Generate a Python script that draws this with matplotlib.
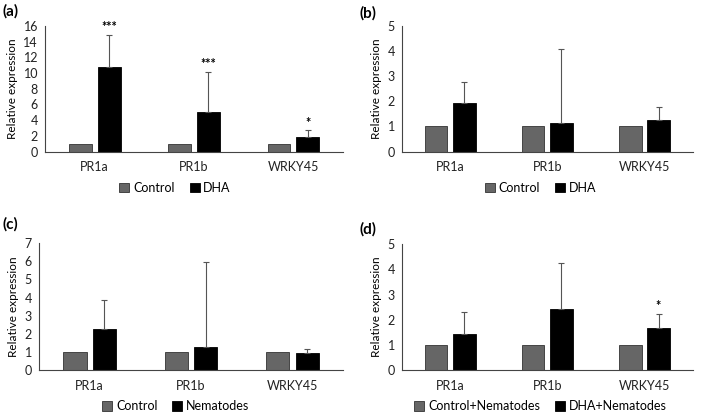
import matplotlib
matplotlib.use("Agg")
import matplotlib.pyplot as plt
import numpy as np

plt.rcParams["font.family"] = ["Lato", "DejaVu Sans"]

genes = ["PR1a", "PR1b", "WRKY45"]

# (a) Control vs DHA
a_ctrl = [1.0, 1.0, 1.0]
a_trt = [10.8, 5.1, 1.9]
a_err = [4.1, 5.1, 0.8]
a_sig = ["***", "***", "*"]

# (b) Control vs DHA
b_ctrl = [1.0, 1.0, 1.0]
b_trt = [1.95, 1.15, 1.26]
b_err = [0.83, 2.93, 0.51]
b_sig = ["", "", ""]

# (c) Control vs Nematodes
c_ctrl = [1.0, 1.0, 1.0]
c_trt = [2.27, 1.29, 0.92]
c_err = [1.6, 4.69, 0.22]
c_sig = ["", "", ""]

# (d) Control+Nematodes vs DHA+Nematodes
d_ctrl = [1.0, 1.0, 1.0]
d_trt = [1.42, 2.42, 1.69]
d_err = [0.9, 1.83, 0.54]
d_sig = ["", "", "*"]

panels = [
    ("(a)", a_ctrl, a_trt, a_err, a_sig, 16, 2, ("Control", "DHA")),
    ("(b)", b_ctrl, b_trt, b_err, b_sig, 5, 1, ("Control", "DHA")),
    ("(c)", c_ctrl, c_trt, c_err, c_sig, 7, 1, ("Control", "Nematodes")),
    ("(d)", d_ctrl, d_trt, d_err, d_sig, 5, 1, ("Control+Nematodes", "DHA+Nematodes")),
]

# axes rectangles [left, bottom, width, height] in figure fraction
rects = [
    [0.0635, 0.633, 0.4205, 0.304],
    [0.5666, 0.633, 0.4108, 0.304],
    [0.055, 0.104, 0.429, 0.307],
    [0.5666, 0.104, 0.4108, 0.3045],
]
tag_pos = [(0.003, 0.99), (0.507, 0.985), (0.003, 0.475), (0.507, 0.463)]
leg_pos = [(0.247, 0.545), (0.762, 0.545), (0.248, 0.016), (0.762, 0.016)]

fig = plt.figure(figsize=(7.09, 4.13), dpi=100)

x = np.arange(len(genes))
w = 0.23
off = 0.145

for (tag, ctrl, trt, err, sig, ymax, step, names), r, tp, lp in zip(panels, rects, tag_pos, leg_pos):
    ax = fig.add_axes(r)
    b1 = ax.bar(x - off, ctrl, w, color="#666666", edgecolor="#333333", linewidth=0.6, label=names[0])
    b2 = ax.bar(x + off, trt, w, color="black", edgecolor="black", linewidth=0.6, label=names[1])
    ax.errorbar(x + off, trt, yerr=[np.zeros(len(err)), err], fmt="none",
                ecolor="#555555", elinewidth=0.8, capsize=2, capthick=0.8)
    for xi, t, e, s in zip(x, trt, err, sig):
        if s:
            ax.text(xi + off, t + e + ymax * 0.015, s, ha="center", va="bottom",
                    fontsize=9, fontweight="bold")
    ax.set_xlim(-0.5, 2.5)
    ax.set_ylim(0, ymax)
    ax.set_yticks(np.arange(0, ymax + 0.01, step))
    ax.set_xticks(x)
    ax.set_xticklabels(genes)
    ax.tick_params(length=0, labelsize=9, colors="#222222")
    ax.tick_params(axis="x", pad=7)
    ax.tick_params(axis="y", pad=5)
    for side in ["top", "right"]:
        ax.spines[side].set_visible(False)
    ax.spines["left"].set_color("#444444")
    ax.spines["bottom"].set_color("#444444")
    ax.set_ylabel("Relative expression", fontsize=8.5, labelpad=4)
    fig.text(tp[0], tp[1], tag, fontsize=11, fontweight="bold", ha="left", va="top")
    fig.legend(handles=[b1, b2], loc="center", bbox_to_anchor=lp, ncol=2,
               frameon=False, fontsize=9, handlelength=0.8, handleheight=0.8,
               handletextpad=0.3, columnspacing=1.2, borderpad=0)

fig.savefig("out.png", dpi=100)
